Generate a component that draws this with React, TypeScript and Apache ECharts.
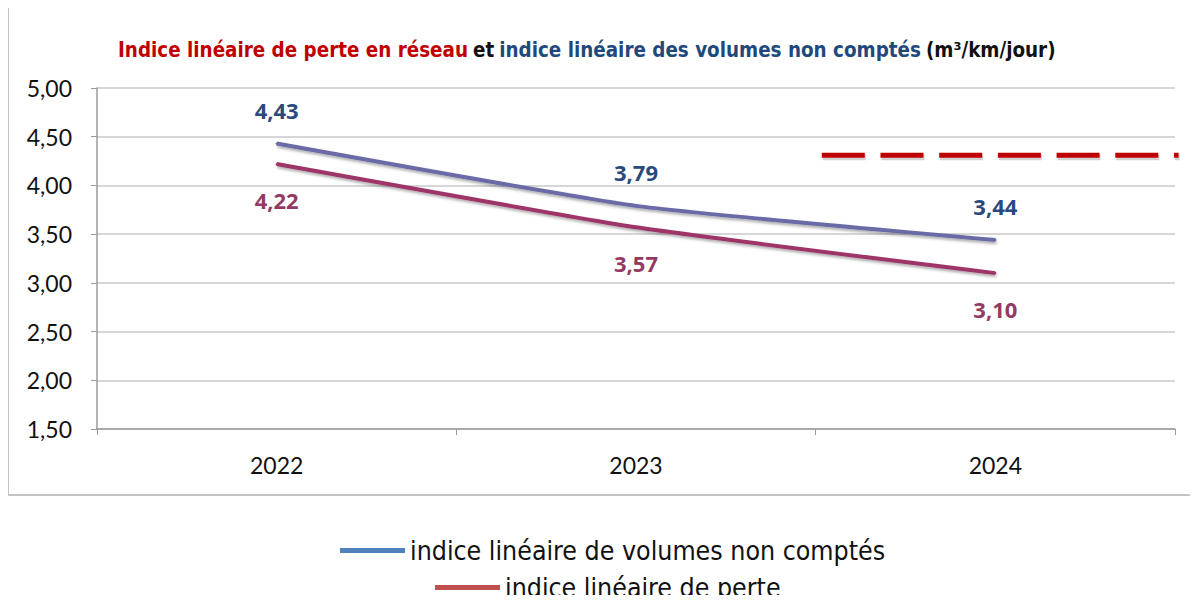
import React, { useEffect, useRef } from "react";
import * as echarts from "echarts";

const categories = ["2022", "2023", "2024"];
const volumesNonComptes = [4.43, 3.79, 3.44];
const indicePerte = [4.22, 3.57, 3.1];
const seriesNames = ["indice linéaire de volumes non comptés", "indice linéaire de perte"];
const targetValue = 4.31;
// start / end of the dashed target line, in category-index units (0 = 2022)
const targetSpan = [1.517, 2.51];
const yTicks = { min: 1.5, max: 5, interval: 0.5 };

const NARROW = "'Liberation Sans Narrow', 'DejaVu Sans Condensed', 'Arial Narrow', sans-serif";
const CAL = "Lato, 'Open Sans', sans-serif";

const fmt = (v: number) => v.toFixed(2).replace(".", ",");

export default function App() {
  const ref = useRef<HTMLDivElement>(null);
  useEffect(() => {
    if (!ref.current) return;
    const chart = echarts.init(ref.current, undefined, { renderer: "svg" });
    const lineShadow = { shadowBlur: 3, shadowColor: "rgba(0,0,0,0.35)", shadowOffsetX: 1, shadowOffsetY: 2 };
    const labelFont = { fontFamily: "'Open Sans', Lato, sans-serif", fontWeight: "bold" as const, fontSize: 22 };
    chart.setOption({
      animation: false,
      backgroundColor: "#ffffff",
      title: {
        left: 118,
        top: 40,
        padding: 0,
        text:
          "{r|Indice linéaire de perte en réseau} {k|et} {b|indice linéaire des volumes non comptés} {k|(m³/km/jour)}",
        textStyle: {
          rich: {
            r: { fontFamily: NARROW, fontWeight: "bold", fontSize: 20.4, color: "#C00000" },
            k: { fontFamily: NARROW, fontWeight: "bold", fontSize: 20.4, color: "#111111" },
            b: { fontFamily: NARROW, fontWeight: "bold", fontSize: 20.4, color: "#1F497D" },
          },
        },
      },
      legend: [
        {
          left: 340,
          top: 537,
          padding: 0,
          icon: "rect",
          itemWidth: 65,
          itemHeight: 5,
          selectedMode: false,
          textStyle: { fontFamily: NARROW, fontSize: 26.5, color: "#111111" },
          data: [{ name: seriesNames[0], itemStyle: { color: "#4F81BD" } }],
        },
        {
          left: 435,
          top: 574,
          padding: 0,
          icon: "rect",
          itemWidth: 65,
          itemHeight: 5,
          selectedMode: false,
          textStyle: { fontFamily: NARROW, fontSize: 26.5, color: "#111111" },
          data: [{ name: seriesNames[1], itemStyle: { color: "#C0504D" } }],
        },
      ],
      grid: { left: 97, right: 23, top: 88, bottom: 174 },
      xAxis: {
        type: "category",
        data: categories,
        boundaryGap: true,
        axisLine: { lineStyle: { color: "#9A9A9A", width: 1.5 } },
        axisTick: { show: true, length: 6, lineStyle: { color: "#9A9A9A" } },
        axisLabel: { fontFamily: CAL, fontSize: 23, color: "#111111", margin: 24 },
      },
      yAxis: {
        type: "value",
        min: yTicks.min,
        max: yTicks.max,
        interval: yTicks.interval,
        axisLine: { show: true, lineStyle: { color: "#9A9A9A", width: 1.5 } },
        axisTick: { show: true, length: 6, lineStyle: { color: "#9A9A9A" } },
        splitLine: { lineStyle: { color: "#C8C8C8", width: 1.5 } },
        axisLabel: { fontFamily: CAL, fontSize: 23, color: "#111111", margin: 25, formatter: fmt },
      },
      series: [
        {
          name: seriesNames[0],
          type: "line",
          data: volumesNonComptes,
          smooth: 0.15,
          symbol: "circle",
          symbolSize: 2,
          showSymbol: true,
          itemStyle: { color: "#6B6BA6" },
          lineStyle: { width: 4, color: "#6B6BA6", ...lineShadow },
          label: {
            show: true,
            position: "top",
            distance: 22,
            ...labelFont,
            color: "#2B4A7C",
            formatter: (p: any) => fmt(p.value),
          },
          z: 3,
        },
        {
          name: seriesNames[1],
          type: "line",
          data: indicePerte,
          smooth: 0.15,
          symbol: "circle",
          symbolSize: 2,
          showSymbol: true,
          itemStyle: { color: "#9E3468" },
          lineStyle: { width: 4, color: "#9E3468", ...lineShadow },
          label: {
            show: true,
            position: "bottom",
            distance: 24,
            ...labelFont,
            color: "#943A62",
            formatter: (p: any) => fmt(p.value),
          },
          z: 3,
        },
      ],
    });

    const y = chart.convertToPixel({ yAxisIndex: 0 }, targetValue) as number;
    const c0 = chart.convertToPixel({ xAxisIndex: 0 }, categories[0]) as number;
    const c1 = chart.convertToPixel({ xAxisIndex: 0 }, categories[1]) as number;
    const band = c1 - c0;
    const x1 = c0 + targetSpan[0] * band;
    const x2 = c0 + targetSpan[1] * band;
    chart.setOption({
      graphic: [
        {
          type: "rect",
          shape: { x: 8, y: 4, width: 1220, height: 491 },
          style: { fill: "none", stroke: "#C4C4C4", lineWidth: 2 },
          z: -1,
          silent: true,
        },
        {
          type: "line",
          shape: { x1: x1 + 1, y1: y + 2, x2: x2 + 1, y2: y + 2 },
          style: { stroke: "rgba(0,0,0,0.18)", lineWidth: 6, lineDash: [43, 15.7] },
          z: 9,
          silent: true,
        },
        {
          type: "line",
          shape: { x1, y1: y, x2, y2: y },
          style: { stroke: "#C00000", lineWidth: 5, lineDash: [43, 15.7] },
          z: 10,
          silent: true,
        },
      ],
    });
    return () => chart.dispose();
  }, []);
  return <div ref={ref} style={{ width: 1198, height: 603, margin: -8 }} />;
}
